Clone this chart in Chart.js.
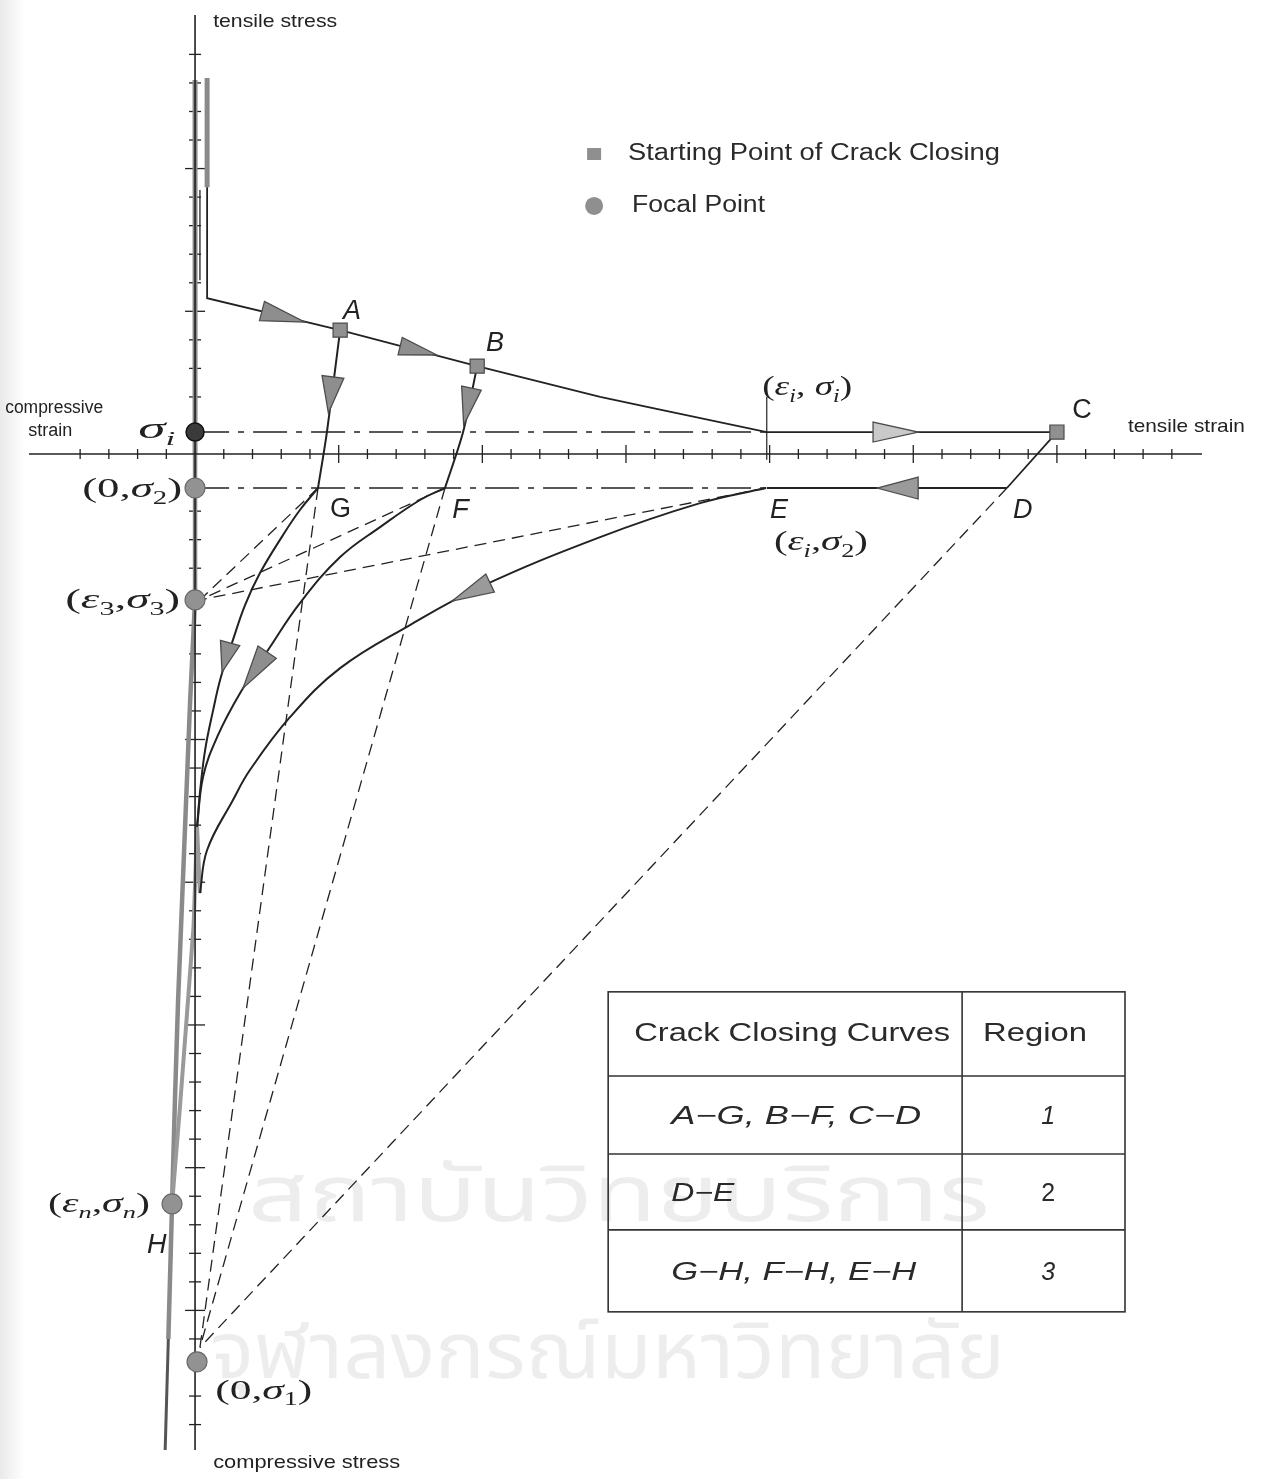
<!DOCTYPE html>
<html>
<head>
<meta charset="utf-8">
<script src="https://cdn.jsdelivr.net/npm/chart.js@4/dist/chart.umd.min.js"></script>
<style>
  html, body { margin: 0; padding: 0; background: #fff; }
  #wrap { width: 1261px; height: 1479px; position: relative; }
</style>
</head>
<body>
<div id="wrap"><canvas id="c" width="1261" height="1479"></canvas></div>
<script>
// ---- axis extent (strain units on x, stress units on y) ----
const xMin = -5.78, xMax = 35.05;
const yMin = -34.89, yMax = 15.38;

// ---- tick positions ----
const xTickValues = [-4,-3,-2,-1,1,2,3,4,5,6,7,8,9,10,11,12,13,14,15,16,17,18,19,20,21,22,23,24,25,26,27,28,29,30,31,32,33,34];
const yTickValues = [14,13,12,11,10,9,8,7,6,5,4,3,2,1,-1,-2,-3,-4,-5,-6,-7,-8,-9,-10,-11,-12,-13,-14,-15,-16,-17,-18,-19,-20,-21,-22,-23,-24,-25,-26,-27,-28,-29,-30,-31,-32,-33,-34];

// ---- tensile loading and softening path ----
const peakBand      = [{x:0.42,y:13.17},{x:0.42,y:9.35}];
const axisBand      = [{x:0,y:0},{x:0,y:13.1}];
const innerBranch   = [{x:0.17,y:9.25},{x:0.17,y:6.09}];
const softening     = [{x:0.42,y:9.35},{x:0.42,y:5.46},{x:5.05,y:4.34},{x:9.82,y:3.08},{x:14.1,y:2.0},{x:15.94,y:1.61},{x:19.9,y:0.77},{x:30.0,y:0.77}];

// ---- region 1 and 2 unloading ----
const unloadAG = [{x:5.05,y:4.34},{x:4.59,y:0.77},{x:4.28,y:-1.19}];
const unloadBF = [{x:9.82,y:3.08},{x:9.33,y:0.77},{x:8.70,y:-1.19}];
const unloadCD = [{x:30.0,y:0.77},{x:28.26,y:-1.19}];
const pathDE   = [{x:28.26,y:-1.19},{x:19.9,y:-1.19}];

// ---- region 3 closing curves ----
const curveEH = [{x:19.87,y:-1.19},{x:17.58,y:-1.72},{x:14.10,y:-2.91},{x:9.92,y:-4.66},{x:7.48,y:-5.99},{x:5.05,y:-7.50},{x:3.31,y:-9.21},{x:1.91,y:-11.07},{x:1.32,y:-12.12},{x:0.42,y:-13.87},{x:0.17,y:-15.38}];
const curveGH = [{x:4.28,y:-1.19},{x:3.65,y:-1.96},{x:3.06,y:-2.84},{x:2.26,y:-4.17},{x:1.74,y:-5.29},{x:1.32,y:-6.51},{x:0.90,y:-7.81},{x:0.63,y:-8.97},{x:0.35,y:-10.37},{x:0.17,y:-11.87},{x:0.07,y:-13.06}];
const curveFH = [{x:8.70,y:-1.19},{x:7.83,y:-1.61},{x:6.44,y:-2.56},{x:5.05,y:-3.61},{x:3.65,y:-5.22},{x:2.61,y:-6.76},{x:1.57,y:-8.37},{x:0.77,y:-9.91},{x:0.28,y:-11.31},{x:0.07,y:-13.06}];
const mergeToH = [{x:0.17,y:-15.38},{x:0.07,y:-13.06},{x:-0.05,y:-16.5},{x:-0.28,y:-19.6},{x:-0.52,y:-22.8},{x:-0.80,y:-26.27}];

// ---- compressive envelope ----
const envelope = [{x:0,y:0},{x:0,y:-5.11},{x:-0.17,y:-8.62},{x:-0.31,y:-12.12},{x:-0.45,y:-15.62},{x:-0.59,y:-19.12},{x:-0.70,y:-22.63},{x:-0.80,y:-26.27},{x:-0.93,y:-31.0}];
const envelopeTail = [{x:-0.93,y:-31.0},{x:-1.04,y:-34.89}];

// ---- construction lines ----
const dashDotI  = [{x:0,y:0.77},{x:19.9,y:0.77}];
const dashDot2  = [{x:0,y:-1.19},{x:19.9,y:-1.19}];
const epsMark   = [{x:19.9,y:2.0},{x:19.9,y:-0.2}];
const toS3fromG = [{x:4.28,y:-1.19},{x:0.17,y:-5.11}];
const toS3fromF = [{x:8.70,y:-1.19},{x:0.17,y:-5.11}];
const toS3fromE = [{x:19.87,y:-1.19},{x:0.17,y:-5.11}];
const toS1fromG = [{x:4.28,y:-1.19},{x:0.17,y:-31.3}];
const toS1fromF = [{x:8.70,y:-1.19},{x:0.17,y:-31.3}];
const toS1fromD = [{x:28.26,y:-1.19},{x:0.17,y:-31.3}];

// ---- markers ----
const startPoints = [{x:5.05,y:4.34},{x:9.82,y:3.08},{x:30.0,y:0.77}];
const focalPoints = [{x:0,y:-1.19},{x:0,y:-5.11},{x:-0.80,y:-26.27},{x:0.07,y:-31.80}];
const focalSigmaI = [{x:0,y:0.77}];

// ---- direction arrows: base centre -> tip ----
const arrows = [
  {b:{x:2.33,y:5.01},  t:{x:3.83,y:4.62},  hw:10, fill:'#8e8e8e'},
  {b:{x:7.14,y:3.78},  t:{x:8.42,y:3.47},  hw:9,  fill:'#8e8e8e'},
  {b:{x:23.6,y:0.77},  t:{x:25.17,y:0.77}, hw:10, fill:'#c9c9c9'},
  {b:{x:4.80,y:2.70},  t:{x:4.64,y:1.44},  hw:11, fill:'#8e8e8e'},
  {b:{x:9.62,y:2.31},  t:{x:9.35,y:1.02},  hw:10, fill:'#8e8e8e'},
  {b:{x:25.17,y:-1.19},t:{x:23.74,y:-1.19},hw:11, fill:'#9a9a9a'},
  {b:{x:10.27,y:-4.52},t:{x:8.95,y:-5.15}, hw:10, fill:'#9a9a9a'},
  {b:{x:1.22,y:-6.62}, t:{x:0.94,y:-7.64}, hw:10, fill:'#8e8e8e'},
  {b:{x:2.51,y:-6.94}, t:{x:1.67,y:-8.20}, hw:11, fill:'#8e8e8e'}
];

// ---- text ----
const sansLabels = [
  {t:'tensile stress',      x:0.63,  y:15.13,  size:19, w:124},
  {t:'compressive',         x:-6.61, y:1.61,   size:18, w:98},
  {t:'strain',              x:-5.81, y:0.81,   size:18, w:44},
  {t:'tensile strain',      x:32.47, y:0.95,   size:19, w:117},
  {t:'compressive stress',  x:0.63,  y:-35.34, size:19, w:187}
];
const pointLetters = [
  {t:'A', x:5.15,  y:5.01,   it:true},
  {t:'B', x:10.13, y:3.89,   it:true},
  {t:'C', x:30.53, y:1.51,   it:false},
  {t:'G', x:4.70,  y:-1.96,  it:false},
  {t:'F', x:8.95,  y:-1.96,  it:true},
  {t:'E', x:20.01, y:-1.96,  it:true},
  {t:'D', x:28.47, y:-1.96,  it:true},
  {t:'H', x:-1.67, y:-27.71, it:true}
];
const mathLabels = [
  {runs:[['σ','i'],['i','si']],                                         x:-1.98, y:0.84,   size:30, w:37},
  {runs:[['(','r'],['ε','i'],['i','si'],[', ','r'],['σ','i'],['i','si'],[')','r']], x:19.74, y:2.31,  size:28, w:90},
  {runs:[['(0,','r'],['σ','i'],['2','sr'],[')','r']],                    x:-3.93, y:-1.26,  size:28, w:100},
  {runs:[['(','r'],['ε','i'],['i','si'],[',','r'],['σ','i'],['2','sr'],[')','r']], x:20.15, y:-3.12, size:28, w:94},
  {runs:[['(','r'],['ε','i'],['3','sr'],[',','r'],['σ','i'],['3','sr'],[')','r']], x:-4.52, y:-5.15, size:28, w:115},
  {runs:[['(','r'],['ε','i'],['n','si'],[',','r'],['σ','i'],['n','si'],[')','r']], x:-5.12, y:-26.30,size:27, w:102},
  {runs:[['(0,','r'],['σ','i'],['1','sr'],[')','r']],                    x:0.70,  y:-32.85, size:28, w:97}
];
const legendItems = [
  {marker:'rect',   mx:13.89, my:10.51, t:'Starting Point of Crack Closing', x:15.07, y:10.51, w:372},
  {marker:'circle', mx:13.89, my:8.69,  t:'Focal Point',                     x:15.21, y:8.69,  w:133}
];
const watermarkLines = [
  {t:'สถาบันวิทยบริการ',        x:1.84, y:-26.3, w:742},
  {t:'จุฬาลงกรณ์มหาวิทยาลัย',  x:0.52, y:-31.8, w:795}
];

// ---- region table ----
const tableHeader = ['Crack Closing Curves', 'Region'];
const tableCurves = ['A−G, B−F, C−D', 'D−E', 'G−H, F−H, E−H'];
const tableRegions = ['1', '2', '3'];
const tableColX = [14.38, 26.70, 32.37];
const tableRowY = [-18.84, -21.79, -24.52, -27.18, -30.05];

const INK = '#222222';
const GREY = '#8a8a8a';

function line(data, opts) {
  return Object.assign({
    data, showLine: true, pointRadius: 0, pointHoverRadius: 0,
    borderColor: INK, borderWidth: 1.6, tension: 0, fill: false, clip: false
  }, opts || {});
}

const DASH = [12, 7];
const DASHDOT = [34, 9, 6, 9];

const datasets = [
  line(axisBand,     {borderColor: GREY, borderWidth: 5, order: 20}),
  line(peakBand,     {borderColor: GREY, borderWidth: 5, order: 20}),
  line(envelope,     {borderColor: GREY, borderWidth: 4.5, order: 20}),
  line(envelopeTail, {borderColor: '#555', borderWidth: 3, order: 20}),
  line(mergeToH,     {borderColor: '#9a9a9a', borderWidth: 4, order: 19}),
  // axes
  line([{x:xMin,y:0},{x:xMax,y:0}], {borderWidth: 1.6, order: 15}),
  line([{x:0,y:yMax},{x:0,y:yMin}], {borderWidth: 1.6, order: 15}),
  // construction lines
  line(dashDotI,  {borderWidth: 1.4, borderDash: DASHDOT, order: 12}),
  line(dashDot2,  {borderWidth: 1.4, borderDash: DASHDOT, order: 12}),
  line(epsMark,   {borderWidth: 1.2, order: 12}),
  line(toS3fromG, {borderWidth: 1.3, borderDash: DASH, order: 12}),
  line(toS3fromF, {borderWidth: 1.3, borderDash: DASH, order: 12}),
  line(toS3fromE, {borderWidth: 1.3, borderDash: DASH, order: 12}),
  line(toS1fromG, {borderWidth: 1.3, borderDash: DASH, order: 12}),
  line(toS1fromF, {borderWidth: 1.3, borderDash: DASH, order: 12}),
  line(toS1fromD, {borderWidth: 1.3, borderDash: DASH, order: 12}),
  // solid paths
  line(innerBranch, {borderWidth: 1.3, order: 10}),
  line(softening,   {borderWidth: 1.8, order: 10}),
  line(unloadAG,    {borderWidth: 2, tension: 0.3, order: 10}),
  line(unloadBF,    {borderWidth: 2, tension: 0.3, order: 10}),
  line(unloadCD,    {borderWidth: 1.8, order: 10}),
  line(pathDE,      {borderWidth: 2, order: 10}),
  line(curveEH,     {borderWidth: 2, tension: 0.4, order: 10}),
  line(curveGH,     {borderWidth: 2, tension: 0.4, order: 10}),
  line(curveFH,     {borderWidth: 2, tension: 0.4, order: 10}),
  // markers
  {data: startPoints, showLine: false, pointStyle: 'rect', pointRadius: 10, pointHoverRadius: 10,
   backgroundColor: '#909090', borderColor: '#4a4a4a', borderWidth: 1.2, clip: false, order: 1},
  {data: focalPoints, showLine: false, pointStyle: 'circle', pointRadius: 10, pointHoverRadius: 10,
   backgroundColor: '#929292', borderColor: '#6a6a6a', borderWidth: 1.2, clip: false, order: 1},
  {data: focalSigmaI, showLine: false, pointStyle: 'circle', pointRadius: 9, pointHoverRadius: 9,
   backgroundColor: '#3a3a3a', borderColor: '#111', borderWidth: 1.5, clip: false, order: 1}
];

function px(chart, x, y) {
  return [chart.scales.x.getPixelForValue(x), chart.scales.y.getPixelForValue(y)];
}

function fitText(ctx, str, left, midY, font, targetW) {
  ctx.save();
  ctx.font = font;
  ctx.textBaseline = 'middle';
  ctx.textAlign = 'left';
  const w = ctx.measureText(str).width;
  const k = targetW ? targetW / w : 1;
  ctx.translate(left, midY);
  ctx.scale(k, 1);
  ctx.fillText(str, 0, 0);
  ctx.restore();
}

function mathText(ctx, runs, left, midY, size, targetW) {
  const fonts = {
    r:  size + 'px "Liberation Serif", "DejaVu Serif", serif',
    i:  'italic ' + size + 'px "Liberation Serif", "DejaVu Serif", serif',
    sr: Math.round(size * 0.64) + 'px "Liberation Serif", "DejaVu Serif", serif',
    si: 'italic ' + Math.round(size * 0.64) + 'px "Liberation Serif", "DejaVu Serif", serif'
  };
  ctx.save();
  ctx.textBaseline = 'middle';
  ctx.textAlign = 'left';
  let total = 0;
  const widths = runs.map(([t, s]) => { ctx.font = fonts[s]; const w = ctx.measureText(t).width; total += w; return w; });
  const k = targetW ? targetW / total : 1;
  ctx.translate(left, midY);
  ctx.scale(k, 1);
  let cx = 0;
  runs.forEach(([t, s], i) => {
    ctx.font = fonts[s];
    const dy = (s === 'sr' || s === 'si') ? size * 0.32 : 0;
    ctx.fillText(t, cx, dy);
    cx += widths[i];
  });
  ctx.restore();
}

const diagramPlugin = {
  id: 'diagram',
  beforeDraw(chart) {
    const ctx = chart.ctx;
    ctx.save();
    ctx.fillStyle = '#ffffff';
    ctx.fillRect(0, 0, chart.width, chart.height);
    // scanned page edge
    const g = ctx.createLinearGradient(0, 0, 24, 0);
    g.addColorStop(0, 'rgba(120,120,120,0.16)');
    g.addColorStop(1, 'rgba(120,120,120,0)');
    ctx.fillStyle = g;
    ctx.fillRect(0, 0, 24, chart.height);
    // watermark
    ctx.fillStyle = 'rgba(0,0,0,0.07)';
    watermarkLines.forEach(l => {
      const [x, y] = px(chart, l.x, l.y);
      fitText(ctx, l.t, x, y, '78px "Noto Sans Thai", "Noto Sans", "DejaVu Sans", sans-serif', l.w);
    });
    ctx.restore();
  },
  beforeDatasetsDraw(chart) {
    const ctx = chart.ctx;
    ctx.save();
    ctx.strokeStyle = INK;
    ctx.lineWidth = 1.3;
    xTickValues.forEach(v => {
      const [x, y] = px(chart, v, 0);
      const h = v % 5 === 0 ? 9 : 5;
      ctx.beginPath(); ctx.moveTo(x, y - h); ctx.lineTo(x, y + h); ctx.stroke();
    });
    yTickValues.forEach(v => {
      const [x, y] = px(chart, 0, v);
      const h = v % 5 === 0 ? 10 : 6;
      ctx.beginPath(); ctx.moveTo(x - h, y); ctx.lineTo(x + h, y); ctx.stroke();
    });
    ctx.restore();
  },
  afterDatasetsDraw(chart) {
    const ctx = chart.ctx;
    ctx.save();
    // direction arrows
    arrows.forEach(a => {
      const [bx, by] = px(chart, a.b.x, a.b.y);
      const [tx, ty] = px(chart, a.t.x, a.t.y);
      const dx = tx - bx, dy = ty - by, L = Math.hypot(dx, dy);
      const nx = -dy / L, ny = dx / L;
      ctx.beginPath();
      ctx.moveTo(tx, ty);
      ctx.lineTo(bx + nx * a.hw, by + ny * a.hw);
      ctx.lineTo(bx - nx * a.hw, by - ny * a.hw);
      ctx.closePath();
      ctx.fillStyle = a.fill;
      ctx.fill();
      ctx.strokeStyle = '#4d4d4d';
      ctx.lineWidth = 1.3;
      ctx.stroke();
    });

    ctx.fillStyle = INK;
    sansLabels.forEach(l => {
      const [x, y] = px(chart, l.x, l.y);
      fitText(ctx, l.t, x, y, l.size + 'px "Liberation Sans", Arial, sans-serif', l.w);
    });
    pointLetters.forEach(l => {
      const [x, y] = px(chart, l.x, l.y);
      fitText(ctx, l.t, x, y, (l.it ? 'italic ' : '') + '27px "Liberation Sans", Arial, sans-serif', 0);
    });
    mathLabels.forEach(l => {
      const [x, y] = px(chart, l.x, l.y);
      mathText(ctx, l.runs, x, y, l.size, l.w);
    });

    // legend
    legendItems.forEach(it => {
      const [mx, my] = px(chart, it.mx, it.my);
      if (it.marker === 'rect') {
        ctx.fillStyle = '#8f8f8f';
        ctx.fillRect(mx - 7, my - 6, 14, 12);
      } else {
        ctx.beginPath(); ctx.arc(mx, my, 9, 0, Math.PI * 2);
        ctx.fillStyle = '#8f8f8f'; ctx.fill();
      }
      ctx.fillStyle = '#2a2a2a';
      const [x, y] = px(chart, it.x, it.y);
      fitText(ctx, it.t, x, y, '23px "Liberation Sans", Arial, sans-serif', it.w);
    });

    // region table
    const [tl, tt] = px(chart, tableColX[0], tableRowY[0]);
    const [tr, tb] = px(chart, tableColX[2], tableRowY[4]);
    const [cm] = px(chart, tableColX[1], 0);
    ctx.strokeStyle = '#333';
    ctx.lineWidth = 1.6;
    ctx.strokeRect(tl, tt, tr - tl, tb - tt);
    ctx.beginPath(); ctx.moveTo(cm, tt); ctx.lineTo(cm, tb); ctx.stroke();
    for (let i = 1; i < 4; i++) {
      const [, ry] = px(chart, 0, tableRowY[i]);
      ctx.beginPath(); ctx.moveTo(tl, ry); ctx.lineTo(tr, ry); ctx.stroke();
    }
    ctx.fillStyle = '#2a2a2a';
    const rowMid = i => (px(chart, 0, tableRowY[i])[1] + px(chart, 0, tableRowY[i + 1])[1]) / 2;
    fitText(ctx, tableHeader[0], tl + 26, rowMid(0), '25px "Liberation Sans", Arial, sans-serif', 316);
    fitText(ctx, tableHeader[1], cm + 21, rowMid(0), '25px "Liberation Sans", Arial, sans-serif', 104);
    const curveW = [250, 63, 245];
    tableCurves.forEach((t, i) => {
      fitText(ctx, t, tl + 63, rowMid(i + 1) + 2, 'italic 25px "Liberation Sans", Arial, sans-serif', curveW[i]);
      ctx.save();
      ctx.font = (i === 0 || i === 2 ? 'italic ' : '') + '25px "Liberation Sans", Arial, sans-serif';
      ctx.textAlign = 'center'; ctx.textBaseline = 'middle';
      ctx.fillText(tableRegions[i], cm + 86, rowMid(i + 1) + 2);
      ctx.restore();
    });
    ctx.restore();
  }
};

new Chart(document.getElementById('c'), {
  type: 'scatter',
  data: { datasets },
  options: {
    responsive: false,
    devicePixelRatio: 1,
    animation: false,
    events: [],
    layout: { padding: { left: 29, right: 59, top: 15, bottom: 29 } },
    plugins: { legend: { display: false }, tooltip: { enabled: false } },
    scales: {
      x: { type: 'linear', min: xMin, max: xMax, display: false },
      y: { type: 'linear', min: yMin, max: yMax, display: false }
    }
  },
  plugins: [diagramPlugin]
});
</script>
</body>
</html>
